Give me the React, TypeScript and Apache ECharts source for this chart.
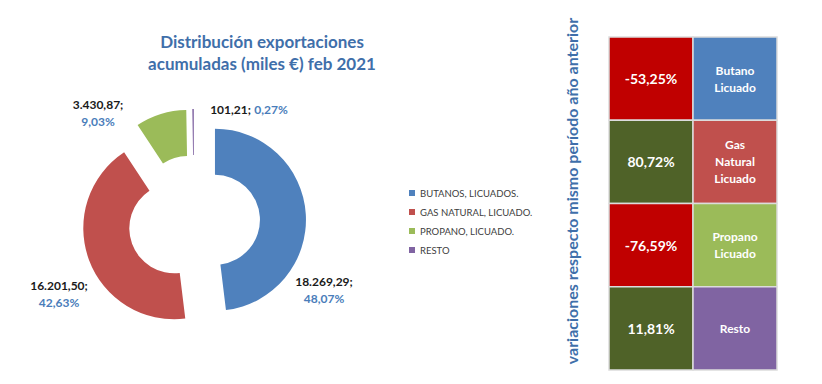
import React, { useEffect, useRef } from 'react';
import * as echarts from 'echarts';

const categories = ['BUTANOS, LICUADOS.', 'GAS NATURAL, LICUADO.', 'PROPANO, LICUADO.', 'RESTO'];
const values = [18269.29, 16201.5, 3430.87, 101.21];
const sliceColors = ['#4F81BD', '#C0504D', '#9BBB59', '#8064A2'];
const tableNames = ['Butano\nLicuado', 'Gas\nNatural\nLicuado', 'Propano\nLicuado', 'Resto'];
const variations = [-53.25, 80.72, -76.59, 11.81];
const titleText = 'Distribución exportaciones\nacumuladas (miles €) feb 2021';
const sideTitle = 'variaciones respecto mismo período año anterior';

const labelPos: [number, number][] = [
  [324, 290],
  [59, 294],
  [98, 113],
  [249, 109],
];

const FONT = 'Lato, "Open Sans", sans-serif';
const BLUE_TEXT = '#3F6FAA';

function fmtEs(v: number): string {
  const [i, d] = v.toFixed(2).split('.');
  const grouped = i.replace(/\B(?=(\d{3})+(?!\d))/g, '.');
  return grouped + ',' + d;
}

export default function App() {
  const ref = useRef<HTMLDivElement>(null);
  useEffect(() => {
    if (!ref.current) return;
    const chart = echarts.init(ref.current, undefined, { renderer: 'svg' });
    const total = values.reduce((a, b) => a + b, 0);
    const pieData = categories.map((name, i) => ({
      name,
      value: values[i],
      selected: true,
      itemStyle: { color: sliceColors[i] },
    }));
    const cellData: number[][] = [];
    variations.forEach((v, r) => {
      cellData.push([0, r, v]);
      cellData.push([1, r, v]);
    });
    const sliceLabels = values.map((v, i) => {
      const pct = (v / total) * 100;
      const a = fmtEs(v) + ';';
      const b = fmtEs(pct) + '%';
      const text = pct < 1 ? `{v|${a}} {p|${b}}` : `{v|${a}}\n{p|${b}}`;
      return {
        type: 'text',
        x: labelPos[i][0],
        y: labelPos[i][1],
        style: {
          text,
          align: 'center',
          verticalAlign: 'middle',
          rich: {
            v: { fontSize: 12, fontWeight: 'bold', fill: '#1a1a1a', fontFamily: FONT, lineHeight: 17, align: 'center' },
            p: { fontSize: 12, fontWeight: 'bold', fill: '#4A7DBA', fontFamily: FONT, lineHeight: 17, align: 'center' },
          },
        },
      };
    });
    chart.setOption({
      animation: false,
      textStyle: { fontFamily: FONT },
      legend: {
        orient: 'vertical',
        left: 404,
        top: 183,
        itemWidth: 6,
        itemHeight: 6,
        itemGap: 9,
        icon: 'rect',
        selectedMode: false,
        data: categories,
        textStyle: { fontSize: 9.5, color: '#404040', fontFamily: FONT },
      },
      graphic: [
        {
          type: 'text',
          x: 262,
          y: 52,
          style: {
            text: titleText,
            align: 'center',
            verticalAlign: 'middle',
            fontSize: 17,
            fontWeight: 'bold',
            lineHeight: 22,
            fontFamily: FONT,
            fill: BLUE_TEXT,
          },
        },
        {
          type: 'text',
          x: 571,
          y: 191,
          rotation: Math.PI / 2,
          style: {
            text: sideTitle,
            align: 'center',
            verticalAlign: 'middle',
            fontSize: 16,
            fontWeight: 'bold',
            fontFamily: FONT,
            fill: BLUE_TEXT,
          },
        },
        ...sliceLabels,
      ],
      grid: { left: 609, top: 37, width: 168, height: 333 },
      xAxis: { type: 'category', data: ['var', 'name'], show: false },
      yAxis: { type: 'category', data: ['0', '1', '2', '3'], inverse: true, show: false },
      series: [
        {
          type: 'pie',
          center: [194, 221],
          radius: [45, 91],
          startAngle: 90,
          clockwise: true,
          selectedMode: 'multiple',
          selectedOffset: 21,
          data: pieData,
          emphasis: { disabled: true },
          select: { itemStyle: { borderWidth: 0 } },
          itemStyle: { borderWidth: 0 },
          labelLine: { show: false },
          label: { show: false },
        },
        {
          type: 'custom',
          coordinateSystem: 'cartesian2d',
          data: cellData,
          encode: { x: 0, y: 1 },
          renderItem: (params: any, api: any) => {
            const col = api.value(0);
            const row = api.value(1);
            const v = api.value(2);
            const c = api.coord([col, row]);
            const s = api.size([1, 1]);
            const isVar = col === 0;
            const fill = isVar ? (v < 0 ? '#C00000' : '#4F6228') : sliceColors[row];
            const text = isVar ? fmtEs(v) + '%' : tableNames[row];
            return {
              type: 'group',
              children: [
                {
                  type: 'rect',
                  shape: { x: c[0] - s[0] / 2, y: c[1] - s[1] / 2, width: s[0], height: s[1] },
                  style: { fill, stroke: '#DCDCDC', lineWidth: 1.5 },
                },
                {
                  type: 'text',
                  x: c[0],
                  y: c[1],
                  style: {
                    text,
                    align: 'center',
                    verticalAlign: 'middle',
                    fill: '#ffffff',
                    fontFamily: FONT,
                    fontWeight: 'bold',
                    fontSize: isVar ? 14 : 12,
                    lineHeight: 17,
                  },
                },
              ],
            };
          },
        },
      ],
    });
    return () => chart.dispose();
  }, []);
  return (
    <div
      ref={ref}
      style={{ position: 'fixed', left: 0, top: 0, width: 822, height: 384, background: '#fff' }}
    />
  );
}
